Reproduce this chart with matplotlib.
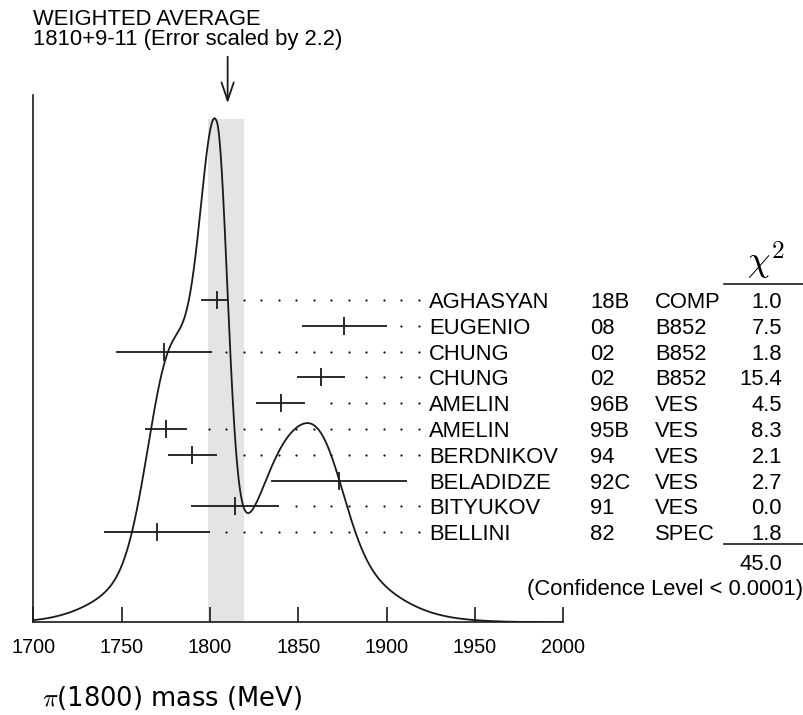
import numpy as np
import matplotlib
matplotlib.use("Agg")
import matplotlib.pyplot as plt
from matplotlib.lines import Line2D

plt.rcParams["font.family"] = ["Liberation Sans", "DejaVu Sans"]
plt.rcParams["mathtext.fontset"] = "cm"

# measurements of the pi(1800) mass (MeV)
authors = ["AGHASYAN", "EUGENIO", "CHUNG", "CHUNG", "AMELIN", "AMELIN",
           "BERDNIKOV", "BELADIDZE", "BITYUKOV", "BELLINI"]
years = ["18B", "08", "02", "02", "96B", "95B", "94", "92C", "91", "82"]
exps = ["COMP", "B852", "B852", "B852", "VES", "VES", "VES", "VES", "VES", "SPEC"]
mass = [1804, 1876, 1774, 1863, 1840, 1775, 1790, 1873, 1814, 1770]
err_lo = [9, 24, 27, 13.5, 14, 12, 14, 38.5, 25, 30]
err_hi = [6, 24, 27, 13.5, 14, 12, 14, 38.5, 25, 30]
chi2 = ["1.0", "7.5", "1.8", "15.4", "4.5", "8.3", "2.1", "2.7", "0.0", "1.8"]
chi2_total = "45.0"
avg, avg_hi, avg_lo = 1810, 9, 11
err_scale = 2.2
xticks = [1700, 1750, 1800, 1850, 1900, 1950, 2000]

# figure geometry (pixels)
W, H = 804, 715
X0, X1 = 33.3, 563.3      # 1700 and 2000
BASE, TOP = 622.3, 95.0   # x axis and top of y axis
ROW0, ROW_STEP = 300.0, 25.8
FS = 15.8
INK = "#1a1a1a"

fig = plt.figure(figsize=(W / 100, H / 100), dpi=100)
fig.patch.set_facecolor("white")
ax = fig.add_axes([X0 / W, 1 - BASE / H, (X1 - X0) / W, (BASE - TOP) / H])
ax.set_xlim(1700, 2000)
ax.set_ylim(0, BASE - TOP)


def ftext(px, py, s, **kw):
    kw.setdefault("fontsize", FS)
    kw.setdefault("color", "black")
    fig.text(px / W, 1 - py / H, s, **kw)


def fline(px0, px1, py):
    fig.add_artist(Line2D([px0 / W, px1 / W], [1 - py / H, 1 - py / H],
                          transform=fig.transFigure, color=INK, lw=1.2))


# ideogram: sum of gaussians, area ~ 1/sigma
xs = np.linspace(1700, 2000, 1501)
ideo = np.zeros_like(xs)
for m, lo, hi in zip(mass, err_lo, err_hi):
    s = np.where(xs < m, lo, hi)
    sa = (lo + hi) / 2
    ideo += np.exp(-0.5 * ((xs - m) / s) ** 2) / sa ** 2
peak_h = 504
curve = ideo / ideo.max() * peak_h

# weighted-average band
ax.fill_between([avg - avg_lo, avg + avg_hi], 0, peak_h - 1, color="#e4e4e4",
                lw=0, zorder=0)
ax.plot(xs, curve, color=INK, lw=1.3, zorder=3)

# measurements
rows = [BASE - (ROW0 + ROW_STEP * i) for i in range(len(mass))]
ax.errorbar(mass, rows, xerr=[err_lo, err_hi], fmt="none", ecolor=INK,
            elinewidth=1.3, capsize=0, zorder=4)
ax.plot(mass, rows, ls="none", marker="|", ms=13, mew=1.3, color=INK, zorder=4)

dot_grid = np.arange(1799.4, 1920, 9.9)
for m, hi, y in zip(mass, err_hi, rows):
    d = dot_grid[dot_grid > m + hi + 7]
    ax.plot(d, [y] * len(d), ls="none", marker="o", ms=1.6, mew=0,
            color="#111111", zorder=2)

# arrow at the average
ax.annotate("", xy=(avg, BASE - 103.3), xytext=(avg, BASE - 56.7),
            arrowprops=dict(arrowstyle="->,head_length=0.65,head_width=0.22",
                            color=INK, lw=1.3, mutation_scale=20,
                            shrinkA=0, shrinkB=0),
            annotation_clip=False)

# axes styling
for side in ["top", "right"]:
    ax.spines[side].set_visible(False)
for side in ["left", "bottom"]:
    ax.spines[side].set_color(INK)
    ax.spines[side].set_linewidth(1.2)
ax.set_facecolor("none")
ax.set_yticks([])
ax.set_xticks(xticks)
ax.set_xticklabels([str(t) for t in xticks])
ax.tick_params(axis="x", direction="in", length=10.8, width=1.2, color=INK,
               labelsize=14.3, pad=11)

# table
for i, y in enumerate(rows):
    py = ROW0 + ROW_STEP * i + 8
    ftext(429, py, authors[i], va="baseline")
    ftext(590, py, years[i], va="baseline")
    ftext(655, py, exps[i], va="baseline")
    ftext(782, py, chi2[i], va="baseline", ha="right")

ftext(766, 282, r"$\chi^2$", fontsize=26, ha="center", va="bottom")
fline(724, 804, 284.3)
fline(724, 804, 544)
ftext(782, 570, chi2_total, va="baseline", ha="right")
ftext(803, 595, "(Confidence Level < 0.0001)", va="baseline", ha="right")

# title
ftext(33, 25, "WEIGHTED AVERAGE", va="baseline")
ftext(33, 45, f"{avg}+{avg_hi}-{avg_lo} (Error scaled by {err_scale})", va="baseline")

# x label
ftext(42, 698, r"$\pi$(1800) mass (MeV)", fontsize=18.5, va="center",
      family="DejaVu Sans")

fig.savefig("out.png", dpi=100, facecolor="white")
